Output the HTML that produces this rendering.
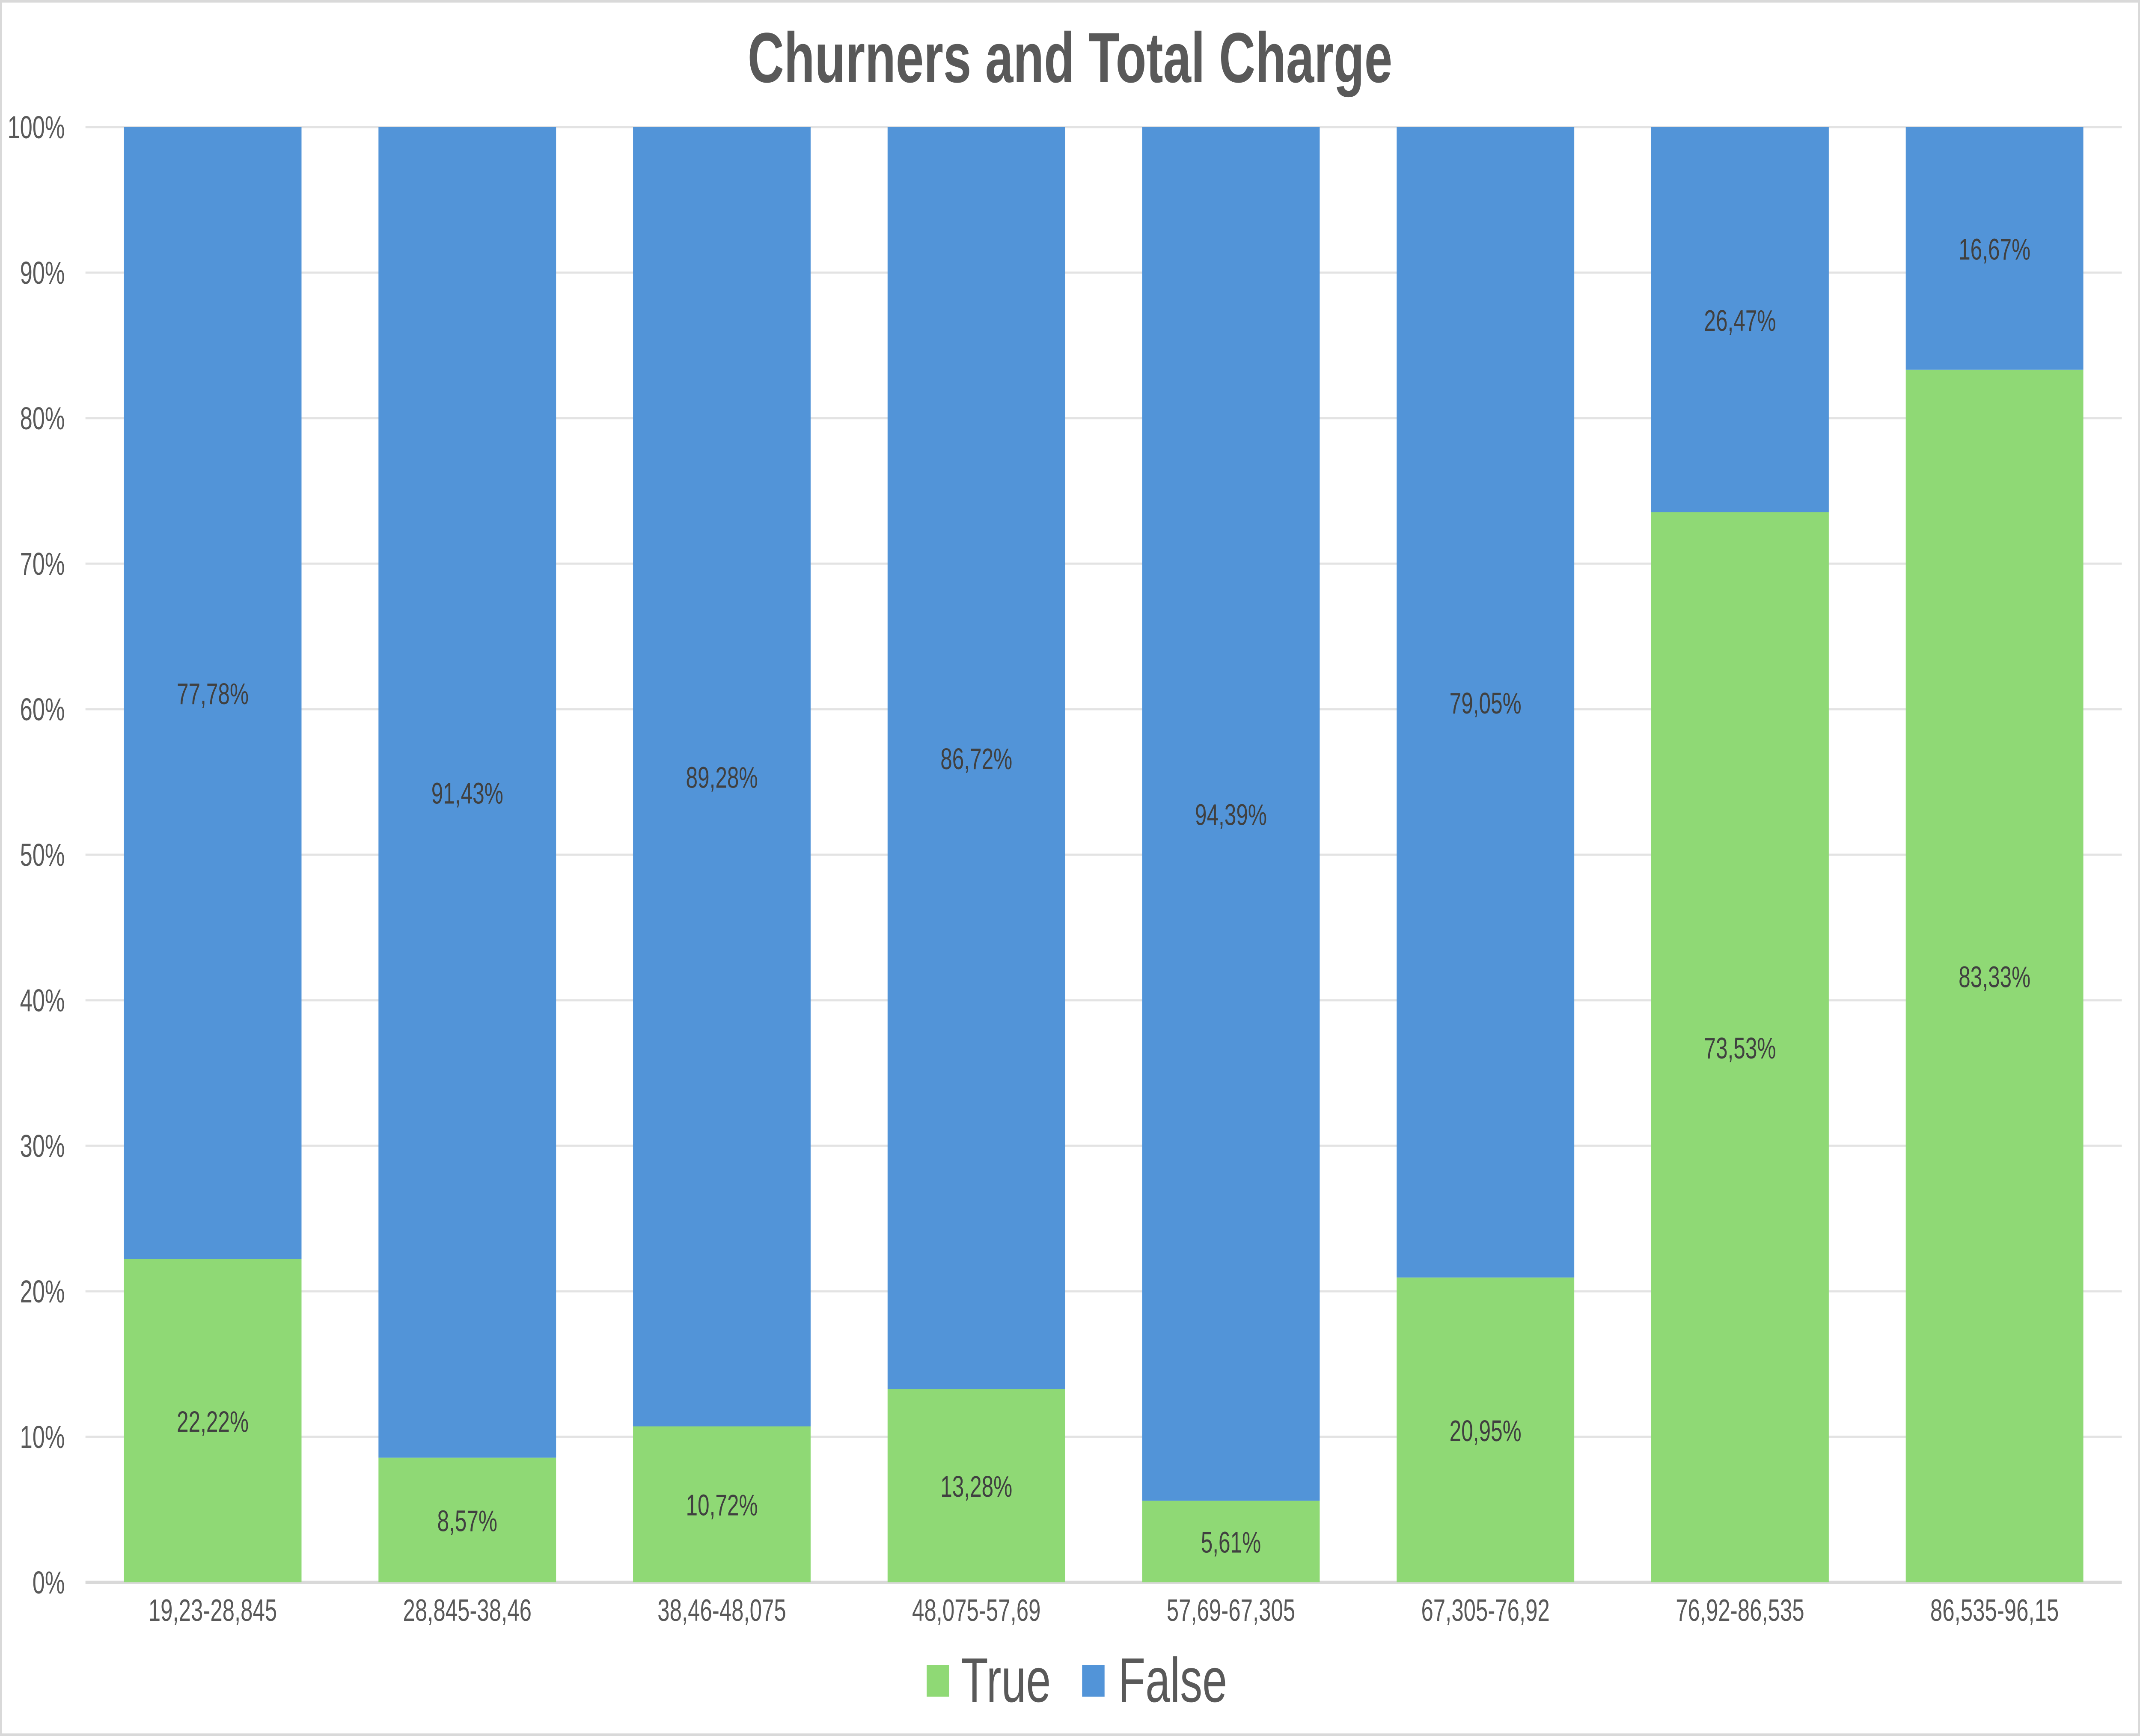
<!DOCTYPE html>
<html><head><meta charset="utf-8"><style>
html,body{margin:0;padding:0;background:#fff;overflow:hidden;width:100%;height:100%;}
svg{display:block;width:100vw;height:100vh;font-family:"Liberation Sans",Arial,sans-serif;}
</style></head><body>
<svg id="chart" viewBox="0 0 7062 4056" preserveAspectRatio="none" xmlns="http://www.w3.org/2000/svg">
<rect x="3" y="3" width="7056" height="4050" fill="#fff" stroke="#d9d9d9" stroke-width="6"/>
<text x="3531" y="192" text-anchor="middle" font-size="166" font-weight="bold" fill="#595959">Churners and Total Charge</text>
<g id="grid"></g>
<g id="yticks"></g>
<g id="bars"></g>
<g id="xticks"></g>
<g>
 <g>
  <rect x="3058" y="3890" width="74" height="74" fill="#8fd975"/>
  <text x="3171" y="3976" font-size="147" fill="#595959">True</text>
 </g>
 <g>
  <rect x="3571" y="3890" width="74" height="74" fill="#5294d8"/>
  <text x="3690" y="3976" font-size="147" fill="#595959">False</text>
 </g>
</g>
</svg>
<script>
const categories = ["19,23-28,845","28,845-38,46","38,46-48,075","48,075-57,69","57,69-67,305","67,305-76,92","76,92-86,535","86,535-96,15"];
const trueValues = [22.22, 8.57, 10.72, 13.28, 5.61, 20.95, 73.53, 83.33];
const falseValues = [77.78, 91.43, 89.28, 86.72, 94.39, 79.05, 26.47, 16.67];
const yTicks = [0,10,20,30,40,50,60,70,80,90,100];

const NS = "http://www.w3.org/2000/svg";
const plotL = 282, plotR = 7002, plotT = 297, plotB = 3697;
const catW = (plotR - plotL) / categories.length;
const barW = 586;
function y(v){ return plotB - (v/100)*(plotB-plotT); }
function xc(i){ return plotL + catW*(i+0.5); }
function mk(tag, attrs, parent){
  const e = document.createElementNS(NS, tag);
  for (const k in attrs) e.setAttribute(k, attrs[k]);
  parent.appendChild(e); return e;
}
const grid = document.getElementById('grid');
const yt = document.getElementById('yticks');
yTicks.forEach(t => {
  const l = mk('line', {x1:plotL, x2:plotR, y1:y(t), y2:y(t), stroke: t===0?'#d9d9d9':'#e3e3e3', 'stroke-width': t===0?8:5}, grid);
  
  
  const tx = mk('text', {x:214, y:y(t)+26, 'text-anchor':'end', 'font-size':74, fill:'#595959'}, yt);
  tx.textContent = t + '%';
  
  
});
const bars = document.getElementById('bars');
const xt = document.getElementById('xticks');
categories.forEach((c, i) => {
  const x0 = xc(i) - barW/2;
  const tv = trueValues[i], fv = falseValues[i];
  const r1 = mk('rect', {x:x0, y:y(tv), width:barW, height:y(0)-y(tv), fill:'#8fd975'}, bars);
  
  
  const r2 = mk('rect', {x:x0, y:y(tv+fv), width:barW, height:y(tv)-y(tv+fv), fill:'#5294d8'}, bars);
  
  
  const l1 = mk('text', {x:xc(i), y:(y(0)+y(tv))/2+26, 'text-anchor':'middle', 'font-size':70, fill:'#404040'}, bars);
  l1.textContent = tv.toFixed(2).replace('.', ',') + '%';
  
  
  const l2 = mk('text', {x:xc(i), y:(y(tv)+y(tv+fv))/2+26, 'text-anchor':'middle', 'font-size':70, fill:'#404040'}, bars);
  l2.textContent = fv.toFixed(2).replace('.', ',') + '%';
  
  
  const ct = mk('text', {x:xc(i), y:3787, 'text-anchor':'middle', 'font-size':72, fill:'#595959'}, xt);
  ct.textContent = c;
  
  
});
</script>
</body></html>
